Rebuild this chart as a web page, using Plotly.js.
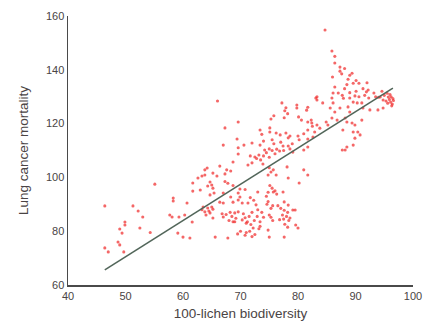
<!DOCTYPE html>
<html>
<head>
<meta charset="utf-8">
<script src="https://cdn.plot.ly/plotly-3.0.1.min.js"></script>
<style>html,body{margin:0;padding:0;background:#fff;}#chart{width:432px;height:329px;}</style>
</head>
<body>
<div id="chart"></div>
<script>
// Scatter data: x = 100 - lichen biodiversity, y = lung cancer mortality
const lichen = [
  46.4,46.4,47.0,48.7,49.0,49.7,49.0,49.4,49.9,49.9,51.3,52.2,53.0,52.5,54.3,55.1,57.7,58.1,58.3,58.3,59.1,59.3,60.3,60.0,61.2,60.7,61.6,61.7,61.7,
  62.6,63.3,63.8,64.3,64.7,63.0,63.3,63.8,64.3,64.7,65.0,64.0,64.5,65.2,63.5,64.2,63.8,64.7,65.0,65.2,65.4,65.2,65.9,65.6,66.0,65.2,
  66.4,67.6,68.3,67.3,67.3,67.8,68.7,68.7,69.6,69.9,67.0,69.6,69.9,69.6,70.3,68.3,68.7,66.4,67.0,66.8,67.5,68.2,68.5,69.0,69.2,69.6,68.0,70.5,70.8,70.3,71.0,69.0,67.0,68.7,67.8,67.3,69.6,69.4,67.0,69.6,70.6,70.0,69.5,
  71.7,72.5,73.2,71.3,72.0,70.8,71.7,71.3,72.3,72.7,73.0,72.0,71.5,72.4,71.8,72.2,71.6,72.0,72.5,71.2,73.2,73.4,73.0,73.4,72.0,73.7,71.0,72.9,
  72.8,73.5,74.0,74.5,75.0,75.5,76.0,74.2,73.9,74.8,75.3,75.7,76.2,75.0,78.1,78.3,75.1,75.5,74.8,76.0,74.5,76.3,74.8,75.6,75.3,74.6,76.5,77.0,77.6,78.2,77.3,78.0,77.5,76.8,78.4,73.7,74.0,73.4,75.3,75.6,75.0,79.5,78.6,77.7,78.2,80.0,79.6,74.8,75.0,77.6,79.1,77.6,78.3,81.0,81.7,80.2,75.7,77.4,70.8,
  73.4,75.1,75.1,77.2,79.8,79.8,81.7,81.5,77.7,78.2,77.9,75.8,75.3,80.1,80.6,81.7,82.4,83.3,82.5,84.9,85.2,77.6,76.2,76.9,77.9,78.6,78.3,80.0,81.0,81.7,82.9,83.8,81.7,82.6,75.5,75.8,77.0,77.4,78.3,78.6,74.0,75.0,76.3,76.8,77.5,80.2,79.0,83.3,83.3,84.3,85.6,83.1,82.3,81.0,81.7,79.1,
  84.7,85.9,86.4,86.4,87.3,87.3,87.6,88.1,86.0,88.7,89.0,89.4,88.5,88.1,89.6,90.1,90.6,86.1,86.4,87.0,87.7,87.9,89.0,89.9,90.1,90.6,91.3,91.9,92.2,91.6,92.3,92.0,93.2,93.5,94.0,94.6,95.0,95.5,94.3,94.8,95.7,93.9,94.8,92.5,91.3,91.1,90.3,89.6,89.0,88.7,89.0,87.3,86.4,86.1,85.9,86.8,85.9,88.2,88.5,89.4,89.9,91.1,87.8,89.6,90.4,90.8,89.9,89.6,88.5,88.2,87.7,
  95.9,96.1,96.4,96.2,96.6,95.6,96.3,95.3,96.0,96.5
];
const mortality = [
  89.4,73.8,72.3,76.0,74.9,72.3,80.8,79.3,83.4,82.3,89.4,87.5,85.3,81.2,79.5,97.5,86.0,85.3,92.3,91.2,79.3,85.3,86.0,77.8,77.5,90.5,83.4,97.9,94.9,
  99.8,100.5,102.8,96.8,93.5,95.3,88.0,87.2,88.6,86.8,89.0,86.0,87.5,88.2,89.0,103.5,100.9,98.3,97.2,96.0,94.2,101.6,100.5,77.8,128.4,84.9,
  104.2,102.8,102.4,101.3,98.5,97.8,97.0,105.7,108.7,95.7,94.2,94.2,92.7,91.6,90.5,92.7,90.8,90.8,90.5,86.5,86.2,87.0,85.5,86.8,84.8,87.2,84.0,86.5,85.0,84.2,83.0,83.5,85.3,83.5,77.5,118.4,120.6,114.3,112.0,111.0,112.0,80.0,79.0,
  108.0,107.6,108.3,104.6,105.4,95.5,92.5,90.5,91.5,89.8,88.0,87.0,85.5,84.0,82.5,81.2,80.0,78.0,78.8,83.5,80.9,81.8,94.6,112.0,112.8,116.0,79.5,85.5,
  107.0,106.5,108.0,109.2,107.5,110.0,108.8,110.2,105.0,100.9,102.0,102.8,100.9,103.6,103.9,99.8,97.0,96.0,94.5,95.0,93.0,93.8,91.0,89.5,88.5,90.0,89.5,88.5,87.8,87.0,86.0,85.5,84.5,84.3,84.0,87.0,85.2,83.5,85.2,84.0,86.0,87.9,84.9,82.6,81.5,81.2,82.3,80.4,77.8,77.8,87.9,90.9,89.7,102.8,100.9,97.9,94.6,94.6,78.5,
  117.6,118.4,116.9,127.7,126.9,125.8,126.1,125.0,124.8,123.7,125.9,122.9,121.7,122.5,121.3,120.6,120.2,119.5,119.0,120.6,119.5,122.2,116.5,115.8,116.5,115.4,114.7,115.4,116.2,117.6,116.9,118.3,114.3,115.0,114.0,112.5,113.1,111.7,111.7,110.6,113.5,110.6,110.5,109.8,110.0,114.0,112.5,130.0,128.8,127.7,125.8,129.5,121.3,110.2,111.3,109.4,
  154.8,147.0,145.0,142.5,141.0,139.5,138.5,140.5,137.3,136.5,138.0,138.7,134.5,133.0,135.0,136.0,135.0,131.4,133.6,131.4,130.5,129.4,131.5,130.3,132.0,130.0,133.0,131.8,132.5,130.5,129.5,135.2,131.4,130.0,129.8,132.0,130.5,131.3,129.9,128.8,129.9,125.1,125.8,125.1,125.8,127.7,127.7,128.0,129.5,126.2,124.3,125.8,124.3,127.7,129.5,121.3,122.1,122.1,120.6,120.2,119.5,121.3,117.6,116.9,116.9,115.8,114.6,112.0,111.3,110.2,110.2,
  129.0,128.0,127.3,130.0,128.6,127.6,126.6,128.4,130.8,129.3
];
// Regression line end points
const fitX = [46.4, 96.5];
const fitY = [65.6, 133.2];
const xTicks = [40, 50, 60, 70, 80, 90, 100];
const yTicks = [60, 80, 100, 120, 140, 160];

const textColor = '#4a4444';
const traces = [
  {
    x: lichen, y: mortality, type: 'scatter', mode: 'markers',
    marker: {color: 'rgba(240,45,45,0.72)', size: 3.1},
    hoverinfo: 'skip', cliponaxis: false
  },
  {
    x: fitX, y: fitY, type: 'scatter', mode: 'lines',
    line: {color: '#52665a', width: 1.6},
    hoverinfo: 'skip'
  }
];
const layout = {
  width: 432, height: 329,
  margin: {l: 68, r: 19, t: 16, b: 44},
  paper_bgcolor: '#ffffff', plot_bgcolor: '#ffffff',
  showlegend: false,
  font: {family: 'Liberation Sans, Arial, sans-serif', color: textColor, size: 11},
  xaxis: {
    range: [40, 100], tickvals: xTicks, ticktext: xTicks.map(String),
    showgrid: false, zeroline: false, showline: true, linecolor: '#4a4a4a', linewidth: 1.5,
    ticks: '', ticklen: 0, tickfont: {size: 11, color: textColor},
    title: {text: '100-lichen biodiversity', font: {size: 13.5, color: textColor}, standoff: 8}
  },
  yaxis: {
    range: [60, 160], tickvals: yTicks, ticktext: yTicks.map(String),
    showgrid: false, zeroline: false, showline: true, linecolor: '#4a4a4a', linewidth: 1.5,
    ticks: '', ticklen: 0, tickfont: {size: 11, color: textColor},
    title: {text: 'Lung cancer mortality', font: {size: 13.5, color: textColor}, standoff: 14}
  }
};
Plotly.newPlot('chart', traces, layout, {staticPlot: true, displayModeBar: false});
</script>
</body>
</html>
